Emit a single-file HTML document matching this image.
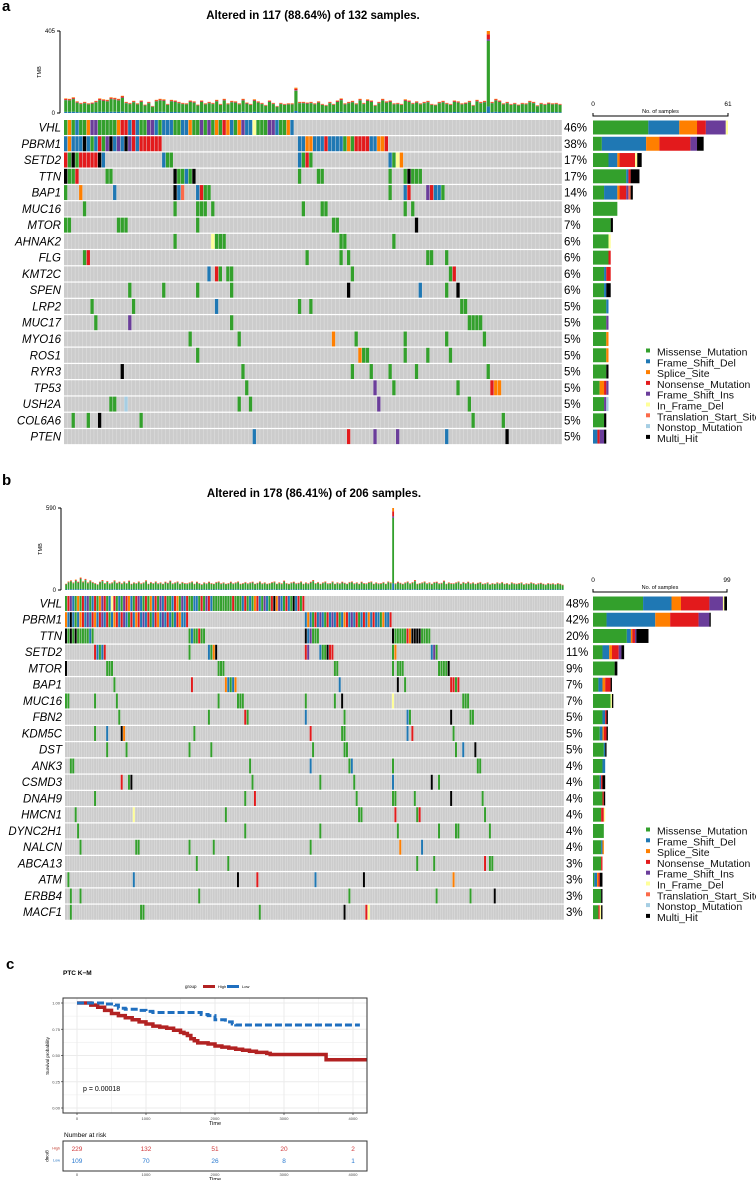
<!DOCTYPE html>
<html><head><meta charset="utf-8"><style>
html,body{margin:0;padding:0;background:#fff;}
svg{display:block;font-family:"Liberation Sans",Arial,sans-serif;}
</style></head><body>
<svg id="fig" width="756" height="1180" viewBox="0 0 756 1180" xmlns="http://www.w3.org/2000/svg">
<text x="2" y="11" font-size="15" font-weight="bold">a</text>
<text x="313" y="19" font-size="11.5" font-weight="bold" text-anchor="middle">Altered in 117 (88.64%) of 132 samples.</text>
<text x="2" y="485" font-size="15" font-weight="bold">b</text>
<text x="314" y="497" font-size="11.5" font-weight="bold" text-anchor="middle">Altered in 178 (86.41%) of 206 samples.</text>
<text x="6" y="969" font-size="15" font-weight="bold">c</text>
<text x="63" y="975" font-size="6.5" font-weight="bold">PTC K−M</text>
<g id="A"></g>
<g id="B"></g>
<g id="C"></g>
</svg>
<script>
// ---------- data: panel a ----------
const genesA = ["VHL","PBRM1","SETD2","TTN","BAP1","MUC16","MTOR","AHNAK2","FLG","KMT2C","SPEN","LRP2","MUC17","MYO16","ROS1","RYR3","TP53","USH2A","COL6A6","PTEN"];
const pctA = ["46%","38%","17%","17%","14%","8%","7%","6%","6%","6%","6%","5%","5%","5%","5%","5%","5%","5%","5%","5%"];
const mutA = [
"0:MSMDMMSIIMMMMMSNNDNDMMIIDMDDDMMDDSMMIMIMSMNSDMSIDDFMMMIIDMMSD",
"0:DSDDDHDMDNMIHDIDHINDNNNNNN 62:DDSSDDDNDDDDMSMNNNNDDSSN",
"0:NMHMNNNNNHD 26:DMM 62:DMNM 86:DMFS",
"0:HMMN 11:MM 29:HMMDMH 62:M 67:MM 86:M 90:MHMMM",
"0:M 4:S 13:D 29:HDT 35:DNMM 86:M 90:DN 96:INDDM",
"5:M 29:M 35:MMM 39:M 63:M 68:MM 90:M 92:M",
"0:MM 14:MMM 35:M 71:MM 93:H",
"29:M 39:FMMM 73:MM 87:M",
"5:MN 64:M 73:M 75:M 96:MM 101:M",
"38:D 40:NM 43:MM 76:M 102:MN",
"17:M 26:M 35:M 44:M 75:H 94:D 101:M 104:H",
"7:M 18:M 40:D 62:M 65:M 105:MM",
"8:M 17:I 44:M 107:MMMM",
"33:M 46:M 71:S 77:M 90:M 101:M 111:M",
"35:M 78:SMM 90:M 96:M 102:M",
"15:H 47:M 76:M 81:M 86:M 93:M 112:M",
"48:M 82:I 87:M 104:M 113:NSS",
"12:MM 16:O 46:M 49:M 83:I 107:M",
"2:M 6:M 9:H 20:M 108:M 116:M",
"50:D 75:N 82:I 88:I 101:D 117:H"];
const tmbA = [72,70,78,58,50,55,48,52,60,72,68,65,78,75,70,85,55,50,60,48,62,42,55,35,65,70,68,45,65,62,55,50,48,62,58,42,62,48,55,50,65,45,70,48,60,58,48,70,52,45,68,58,50,40,62,50,35,50,45,48,48,125,55,55,52,55,48,58,45,40,55,45,62,72,48,55,60,48,70,50,68,62,40,55,70,58,62,48,50,45,68,62,50,58,48,55,60,45,42,55,60,50,45,62,58,48,52,60,40,65,55,60,405,55,70,62,48,55,45,50,42,50,48,60,55,38,50,45,52,48,50,45];
const tmbTicksA = ["0","405"];
const barMaxA = 61;
// ---------- data: panel b ----------
const genesB = ["VHL","PBRM1","TTN","SETD2","MTOR","BAP1","MUC16","FBN2","KDM5C","DST","ANK3","CSMD3","DNAH9","HMCN1","DYNC2H1","NALCN","ABCA13","ATM","ERBB4","MACF1"];
const pctB = ["48%","42%","20%","11%","9%","7%","7%","5%","5%","5%","4%","4%","4%","4%","4%","4%","3%","3%","3%","3%"];
const mutB = [
"0:MNIDMSMNDIMDNMSINMDFNMDMINSDMNIDMNMSDNMIDNMMDNSMIDNMMDDMNMINDMMMMMMMMNMMMDNMDMSNDMIDMNHSIDMNDMHDNMN",
"0:SDHDMDSNDIDNSDNIDNMDSNDNIDMNDSNDIDNMDNSDIDNDMDNSDDN 99:DSDMNDIDMNDIDNMDSNDIDNMDNDSDNDDMSDDN",
"0:HMHMHMMMMMDM 51:MDMMNMM 99:HDIMMM 135:HMMMMMNSHHHHMMMM",
"12:NDMDN 51:M 59:DMSH 99:NI 105:DMMHNN 135:MS 151:DIM",
"0:H 17:MMM 63:MMM 111:MM 135:M 137:MMM 154:MMMMH",
"20:M 52:N 66:SDMDS 113:D 137:H 140:M 159:NNMN",
"0:MM 12:M 21:M 63:M 71:MMM 99:M 111:M 114:H 135:F 164:MMM",
"22:M 59:M 74:NM 99:D 115:M 141:DM 159:H 167:MM",
"12:M 17:D 23:HS 53:M 101:N 114:MM 141:D 143:N 160:M",
"17:M 25:M 51:M 60:M 102:M 115:M 116:M 161:M 164:D 169:H",
"2:MM 76:M 101:D 117:MD 135:M 170:MM",
"23:N 26:MH 77:M 105:M 119:M 135:D 151:H 154:M",
"12:M 74:M 78:N 120:M 135:MM 144:M 159:H 172:M",
"4:M 28:F 66:M 121:MM 136:N 145:MN 173:M",
"5:M 74:M 105:M 137:M 154:M 161:MM 175:M",
"6:M 29:MM 51:M 61:M 101:M 138:S 147:D",
"54:M 67:M 145:M 152:M 173:N 175:MM",
"1:M 28:D 71:H 79:N 103:D 123:H 160:S",
"2:M 6:M 55:M 117:M 153:M 167:M 177:H",
"2:M 31:MM 80:M 115:H 124:NF"];
const tmbB = [45,62,70,55,75,60,90,62,80,55,70,58,50,42,60,72,50,65,48,55,70,52,60,48,62,50,68,45,55,50,62,48,55,70,45,58,50,62,48,55,45,60,52,68,48,55,62,45,58,50,48,55,62,45,60,50,42,55,48,60,50,45,58,62,48,55,45,50,60,48,55,62,45,50,58,48,55,60,45,52,62,48,55,45,50,58,62,45,55,48,68,50,45,55,60,48,52,62,45,55,48,60,72,50,58,45,55,62,48,50,62,45,55,48,60,52,45,58,62,48,55,45,60,50,48,58,62,45,55,48,50,58,45,62,55,590,48,60,52,45,55,62,48,58,72,45,50,55,62,48,55,45,58,60,48,52,68,45,55,50,48,55,62,45,58,50,60,48,55,45,52,58,45,48,55,42,50,45,55,48,58,45,50,42,55,48,45,50,55,42,48,45,55,50,42,48,52,45,40,50,45,48,42,50,45,38];
const tmbTicksB = ["0","590"];
const barMaxB = 99;
// ---------- data: KM ----------
const highT = [0,120,200,300,400,500,600,700,800,900,1000,1100,1200,1300,1400,1500,1550,1600,1650,1700,1750,1900,2000,2100,2200,2300,2400,2500,2600,2750,2800,3600,3610,4200];
const highS = [1,1,0.98,0.96,0.93,0.9,0.88,0.86,0.84,0.82,0.8,0.78,0.77,0.76,0.74,0.72,0.71,0.69,0.66,0.64,0.62,0.61,0.59,0.58,0.57,0.56,0.55,0.54,0.53,0.52,0.51,0.51,0.46,0.46];
const lowT = [0,300,400,550,600,700,900,1000,1100,1700,1800,1900,2000,2150,2250,2300,4100];
const lowS = [1,1,0.99,0.98,0.95,0.94,0.93,0.92,0.91,0.91,0.89,0.88,0.84,0.82,0.8,0.79,0.79];
const riskTimes = [0,1000,2000,3000,4000];
const riskHigh = [229,132,51,20,2];
const riskLow = [109,70,26,8,1];
const yTicks = [0,0.25,0.5,0.75,1];
const yTickLabels = ["0.00","0.25","0.50","0.75","1.00"];
const xTicks = [0,1000,2000,3000,4000];

const NS="http://www.w3.org/2000/svg";
const COL={M:"#33A02C",D:"#1F78B4",S:"#FF7F00",N:"#E31A1C",I:"#6A3D9A",F:"#FFFF99",T:"#FB6A4A",O:"#A6CEE3",H:"#000000"};
const ORDER=["M","D","S","N","I","F","T","O","H"];
const LEG=["Missense_Mutation","Frame_Shift_Del","Splice_Site","Nonsense_Mutation","Frame_Shift_Ins","In_Frame_Del","Translation_Start_Site","Nonstop_Mutation","Multi_Hit"];
const LEGK=["M","D","S","N","I","F","T","O","H"];
function mk(parent,tag,at,txt){const e=document.createElementNS(NS,tag);for(const k in at)e.setAttribute(k,at[k]);if(txt!==undefined)e.textContent=txt;parent.appendChild(e);return e;}
function parse(s){const m={};s.trim().split(/\s+/).forEach(t=>{const [a,b]=t.split(":");const st=+a;for(let i=0;i<b.length;i++)m[st+i]=b[i];});return m;}

function onco(g,c){
  const n=c.tmb.length, cw=(c.x1-c.x0)/n;
  const xs=i=>c.x0+i*cw;
  const ty=v=>c.tBase-(v/c.tmax)*(c.tBase-c.tTop);
  // TMB axis
  let e=mk(g,"line",{x1:c.x0-4,x2:c.x0-4,y1:c.tTop,y2:c.tBase,stroke:"#000","stroke-width":1});
  
  
  [[c.tTop,c.ticks[1]],[c.tBase,c.ticks[0]]].forEach(([y,l])=>{
    mk(g,"line",{x1:c.x0-7,x2:c.x0-4,y1:y,y2:y,stroke:"#000","stroke-width":1});
    e=mk(g,"text",{x:c.x0-9,y:y+2,"font-size":6,"text-anchor":"end"},l);
    
    
  });
  e=mk(g,"text",{x:0,y:0,"font-size":5.5,"text-anchor":"middle",transform:`translate(${c.x0-23},${(c.tTop+c.tBase)/2}) rotate(-90)`},"TMB");
  
  
  const fr=[["D",0.08],["M",0.8],["I",0.02],["N",0.06],["S",0.04]];
  c.tmb.forEach((v,i)=>{let acc=0;fr.forEach(([k,f])=>{const y1=ty(acc+v*f),y0=ty(acc);acc+=v*f;
    const r=mk(g,"rect",{x:xs(i)+0.2,y:y1,width:Math.max(cw-0.6,0.8),height:Math.max(y0-y1,0),fill:COL[k]});
    
    
  });});
  // grid
  const bs=(c.bx1-c.bx0)/c.bmax;
  c.genes.forEach((gn,r)=>{
    const y=c.y0+r*c.pitch, h=c.pitch-1.3;
    const m=parse(c.mut[r]);
    const bg=mk(g,"rect",{x:c.x0,y:y,width:c.x1-c.x0,height:h,fill:"#e4e4e4"});
    
    
    for(let i=0;i<n;i++){
      const t=m[i];
      const cell=mk(g,"rect",{x:xs(i),y:y,width:cw-0.45,height:h,fill:t?COL[t]:"#cccccc"});
      
      
    }
    e=mk(g,"text",{x:c.x0-3,y:y+h/2+4,"font-size":11.5,"font-style":"italic","text-anchor":"end"},gn);
    
    
    e=mk(g,"text",{x:c.x1+2,y:y+h/2+4,"font-size":11.5},c.pct[r]);
    
    
    const cnt={};Object.values(m).forEach(t=>cnt[t]=(cnt[t]||0)+1);
    let bx=c.bx0;
    ORDER.forEach(k=>{if(!cnt[k])return;const w=cnt[k]*bs;
      const b=mk(g,"rect",{x:bx,y:y+0.5,width:w,height:h-1,fill:COL[k]});
      
      
      bx+=w;});
  });
  // top axis for count bars
  const ay=c.bAxisY;
  e=mk(g,"path",{d:`M${c.bx0},${ay-3}V${ay}H${c.bx1}V${ay-3}`,fill:"none",stroke:"#000","stroke-width":1});
  
  
  e=mk(g,"text",{x:c.bx0,y:ay-10,"font-size":6.5,"text-anchor":"middle"},"0");
  
  
  e=mk(g,"text",{x:c.bx1,y:ay-10,"font-size":6.5,"text-anchor":"middle"},String(c.bmax));
  
  
  e=mk(g,"text",{x:(c.bx0+c.bx1)/2,y:ay-3,"font-size":5.5,"text-anchor":"middle"},"No. of samples");
  
  
  // legend
  LEG.forEach((l,i)=>{const y=c.legY+i*10.8;
    const s=mk(g,"rect",{x:646,y:y-3.5,width:4,height:4,fill:COL[LEGK[i]]});
    
    
    const t=mk(g,"text",{x:657,y:y+3.5,"font-size":10.5,fill:"#111"},l);
    
    
  });
}
onco(document.getElementById("A"),{genes:genesA,pct:pctA,mut:mutA,tmb:tmbA,ticks:tmbTicksA,tmax:405,x0:64,x1:562,y0:120,pitch:16.27,tTop:31,tBase:113,bx0:593,bx1:728,bmax:barMaxA,bAxisY:116,legY:352});
onco(document.getElementById("B"),{genes:genesB,pct:pctB,mut:mutB,tmb:tmbB,ticks:tmbTicksB,tmax:590,x0:65,x1:564,y0:596,pitch:16.25,tTop:508,tBase:590,bx0:593,bx1:727,bmax:barMaxB,bAxisY:592,legY:831});

// ---------- KM ----------
(function(){
  const g=document.getElementById("C");
  const px0=63,px1=367,py0=998,py1=1113;
  const X=t=>77+t*0.069, Y=s=>1108-s*105;
  let e;
  // legend
  e=mk(g,"text",{x:185,y:988,"font-size":4.5},"group");
  e=mk(g,"rect",{x:203,y:985,width:12,height:3,fill:"#B22222"});
  e=mk(g,"text",{x:218,y:988,"font-size":4},"High");
  e=mk(g,"rect",{x:227,y:985,width:12,height:3,fill:"#1F6FBF"});
  e=mk(g,"text",{x:242,y:988,"font-size":4},"Low");
  // grid
  for(let v=0;v<=1.001;v+=0.125){e=mk(g,"line",{x1:px0,x2:px1,y1:Y(v),y2:Y(v),stroke:"#ebebeb","stroke-width":Math.abs(v*4-Math.round(v*4))<0.01?1:0.5});}
  for(let t=0;t<=4000;t+=500){e=mk(g,"line",{x1:X(t),x2:X(t),y1:py0,y2:py1,stroke:"#ebebeb","stroke-width":t%1000?0.5:1});}
  function step(T,S){let d=`M${X(T[0])},${Y(S[0])}`;for(let i=1;i<T.length;i++)d+=`H${X(T[i])}V${Y(S[i])}`;return d;}
  e=mk(g,"path",{d:step(highT,highS),fill:"none",stroke:"#B22222","stroke-width":3.5});
  e=mk(g,"path",{d:step(lowT,lowS),fill:"none",stroke:"#1F6FBF","stroke-width":3,"stroke-dasharray":"7,3"});
  e=mk(g,"rect",{x:px0,y:py0,width:px1-px0,height:py1-py0,fill:"none",stroke:"#333","stroke-width":1});
  yTicks.forEach((v,i)=>{mk(g,"line",{x1:px0-2,x2:px0,y1:Y(v),y2:Y(v),stroke:"#333","stroke-width":0.7});
    e=mk(g,"text",{x:px0-3,y:Y(v)+1.5,"font-size":4,"text-anchor":"end",fill:"#444"},yTickLabels[i]);});
  xTicks.forEach(t=>{mk(g,"line",{x1:X(t),x2:X(t),y1:py1,y2:py1+2,stroke:"#333","stroke-width":0.7});
    e=mk(g,"text",{x:X(t),y:py1+7,"font-size":4,"text-anchor":"middle",fill:"#444"},String(t));});
  e=mk(g,"text",{x:215,y:1125,"font-size":5.5,"text-anchor":"middle"},"Time");
  e=mk(g,"text",{x:0,y:0,"font-size":4.5,"text-anchor":"middle",transform:`translate(49,1056) rotate(-90)`},"Survival probability");
  e=mk(g,"text",{x:83,y:1091,"font-size":7},"p = 0.00018");
  // risk table
  e=mk(g,"text",{x:64,y:1137,"font-size":6.5},"Number at risk");
  e=mk(g,"rect",{x:px0,y:1141,width:px1-px0,height:30,fill:"none",stroke:"#333","stroke-width":1});
  e=mk(g,"text",{x:60,y:1149.5,"font-size":3.8,"text-anchor":"end",fill:"#c0392b"},"High");
  e=mk(g,"text",{x:60,y:1161.5,"font-size":3.8,"text-anchor":"end",fill:"#1F6FBF"},"Low");
  e=mk(g,"text",{x:0,y:0,"font-size":4.5,"text-anchor":"middle",transform:`translate(46,1156) rotate(90)`},"group");
  riskTimes.forEach((t,i)=>{
    e=mk(g,"text",{x:X(t),y:1151,"font-size":6.5,"text-anchor":"middle",fill:"#d0393b"},String(riskHigh[i]));
    e=mk(g,"text",{x:X(t),y:1163,"font-size":6.5,"text-anchor":"middle",fill:"#2a7ad0"},String(riskLow[i]));
    e=mk(g,"text",{x:X(t),y:1176,"font-size":4,"text-anchor":"middle",fill:"#444"},String(t));
  });
  e=mk(g,"text",{x:215,y:1181,"font-size":5.5,"text-anchor":"middle"},"Time");
})();
</script>
</body></html>
